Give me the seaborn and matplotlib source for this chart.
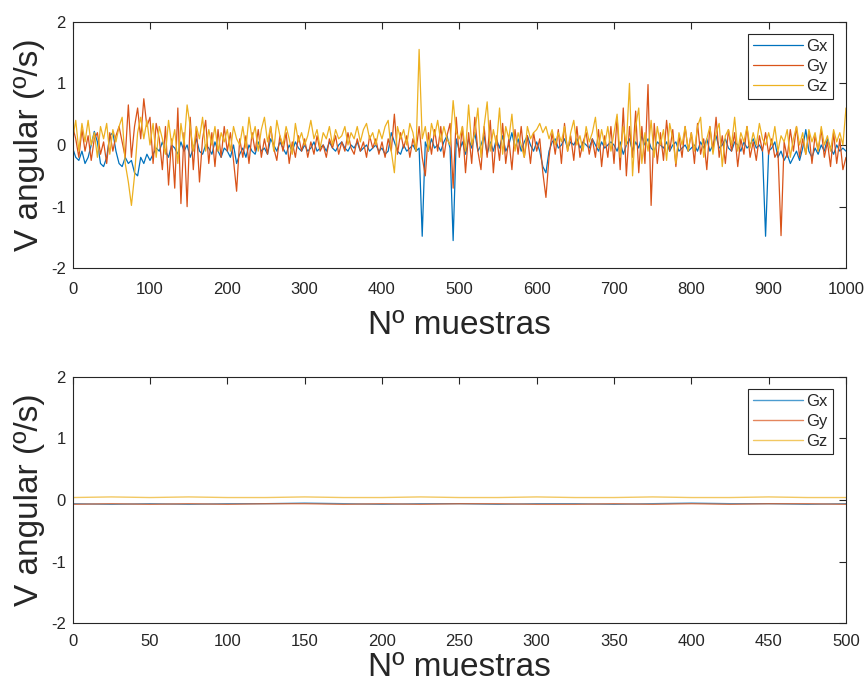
import numpy as np
import pandas as pd
import seaborn as sns
import matplotlib.pyplot as plt

# muestras 0..1000 cada 4 (filas de 25 valores = 100 muestras)
muestras_top = list(range(0, 1001, 4))

gx_top = [
    -0.05, -0.2, -0.25, -0.1, -0.3, -0.2, 0.0, 0.22, 0.05, -0.3, -0.35, -0.2, 0.15, 0.2, -0.1, -0.3, -0.35, -0.2, -0.3, -0.25, -0.45, -0.5, -0.2, -0.3, -0.15,
    -0.25, -0.15, -0.05, -0.1, 0.05, -0.1, -0.2, 0.0, -0.05, -0.15, 0.05, -0.1, 0.0, -0.2, -0.05, 0.1, -0.1, -0.15, 0.0, -0.05, -0.15, 0.05, -0.1, -0.2, -0.05,
    -0.1, -0.2, 0.0, -0.3, -0.15, -0.05, -0.2, 0.0, -0.1, -0.15, 0.05, -0.1, -0.05, -0.15, 0.1, 0.0, -0.1, 0.05, -0.05, -0.15, 0.0, -0.1, 0.05, -0.05, -0.1,
    0.0, -0.1, -0.05, 0.05, -0.1, -0.05, 0.0, -0.1, 0.05, -0.05, -0.1, 0.0, 0.05, -0.05, -0.1, 0.0, -0.05, 0.05, -0.1, -0.05, 0.0, -0.1, -0.05, 0.0, -0.1,
    -0.05, -0.15, -0.1, 0.2, 0.05, -0.1, -0.15, 0.0, -0.1, -0.05, 0.0, -0.1, -0.05, -1.48, 0.05, -0.1, 0.1, -0.05, 0.0, -0.1, 0.05, 0.15, -0.05, -1.55, 0.1,
    -0.1, 0.05, -0.15, 0.1, -0.05, 0.2, -0.1, 0.0, 0.15, -0.15, 0.05, -0.1, 0.1, -0.05, 0.15, -0.1, 0.0, 0.2, -0.05, 0.1, -0.1, 0.05, 0.15, 0.0, -0.1,
    0.05, -0.1, -0.35, -0.45, -0.1, 0.05, 0.1, -0.05, 0.0, 0.1, -0.05, 0.05, 0.0, 0.1, -0.05, 0.05, 0.0, -0.05, 0.1, 0.0, -0.1, 0.05, -0.05, 0.0, 0.05,
    0.0, -0.1, 0.05, -0.15, 0.0, 0.1, -0.1, 0.05, -0.05, 0.15, 0.0, 0.1, -0.05, -0.1, 0.05, 0.0, -0.05, 0.05, -0.1, 0.0, 0.05, -0.1, -0.05, 0.0, -0.1,
    -0.05, 0.0, -0.1, 0.05, -0.05, 0.1, -0.1, 0.0, 0.15, -0.05, 0.0, 0.1, -0.05, -0.1, 0.05, 0.0, -0.1, 0.05, -0.05, 0.0, 0.1, -0.05, 0.0, -0.1, -1.48,
    -0.1, -0.05, 0.05, -0.2, -0.1, -0.25, -0.15, -0.3, -0.2, -0.1, -0.25, -0.05, 0.25, -0.1, -0.2, -0.05, -0.15, 0.0, -0.1, 0.1, -0.05, -0.15, 0.0, -0.1, -0.05,
    -0.1,
]

gy_top = [
    0.3, 0.1, -0.2, 0.25, -0.1, 0.15, -0.25, 0.1, 0.2, -0.15, 0.05, -0.3, 0.2, -0.1, 0.15, 0.3, 0.05, -0.2, 0.65, -0.2, 0.3, 0.6, 0.1, 0.75, 0.3,
    0.45, -0.3, 0.35, 0.1, -0.4, 0.3, -0.65, 0.1, -0.7, 0.6, -0.95, 0.2, -1.0, 0.45, -0.4, 0.3, -0.6, 0.1, 0.4, -0.3, 0.2, -0.35, 0.25, -0.2, 0.3,
    -0.1, 0.2, -0.25, -0.75, 0.1, -0.2, 0.15, -0.3, 0.2, -0.1, 0.25, -0.2, 0.1, -0.15, 0.3, -0.05, -0.25, 0.15, -0.1, 0.2, -0.3, 0.05, -0.2, 0.15, -0.1,
    0.1, -0.2, 0.05, -0.15, 0.15, -0.1, 0.0, -0.2, 0.1, -0.05, 0.15, -0.15, 0.05, -0.1, 0.2, -0.05, -0.15, 0.1, -0.1, 0.05, -0.2, 0.15, -0.05, 0.1, -0.15,
    0.05, -0.2, 0.1, -0.1, 0.5, -0.15, 0.2, -0.05, 0.15, -0.2, 0.1, -0.1, 0.3, -0.2, -0.5, 0.2, -0.15, 0.25, -0.1, 0.3, -0.2, 0.15, 0.35, -0.7, 0.45,
    -0.2, 0.3, -0.45, 0.2, -0.3, 0.45, -0.1, -0.4, 0.3, -0.2, 0.4, -0.45, 0.15, -0.25, 0.35, -0.3, 0.1, -0.4, 0.25, -0.15, 0.3, -0.2, 0.15, -0.3, 0.2,
    -0.1, 0.1, -0.45, -0.85, -0.2, 0.2, -0.15, 0.25, -0.3, 0.35, -0.1, 0.15, -0.25, 0.3, -0.2, 0.05, 0.2, -0.15, 0.1, -0.2, 0.25, -0.35, 0.15, -0.2, 0.3,
    -0.3, 0.45, -0.4, 0.6, -0.5, 0.3, -0.2, 0.55, -0.45, 0.3, -0.3, 0.98, -0.98, 0.35, -0.3, 0.2, -0.25, 0.4, -0.1, 0.25, -0.35, 0.15, -0.2, 0.3, -0.1,
    0.2, -0.3, 0.35, -0.15, 0.1, -0.4, 0.3, -0.1, 0.45, -0.2, 0.15, -0.3, 0.25, -0.1, 0.2, -0.35, 0.1, -0.15, 0.3, -0.2, 0.05, -0.25, 0.15, -0.1, 0.2,
    -0.15, 0.1, -0.2, -0.1, -1.47, 0.05, -0.2, 0.25, -0.1, 0.3, -0.2, 0.1, -0.15, 0.2, -0.3, 0.15, -0.1, 0.25, -0.2, 0.05, -0.35, 0.2, -0.3, 0.1, -0.4,
    -0.2,
]

gz_top = [
    0.1, 0.4, -0.1, 0.35, 0.05, 0.4, 0.0, 0.2, -0.2, 0.3, 0.1, 0.35, -0.15, 0.25, 0.05, 0.3, 0.45, -0.3, -0.6, -0.98, -0.5, 0.2, 0.45, 0.1, 0.4,
    0.0, 0.35, -0.2, 0.3, 0.1, -0.15, 0.4, 0.0, 0.25, -0.3, 0.35, 0.0, 0.65, 0.3, -0.1, 0.3, 0.1, 0.45, -0.1, 0.25, 0.0, 0.3, -0.1, 0.2, 0.05,
    0.25, -0.1, 0.3, 0.1, 0.0, 0.3, -0.05, 0.45, 0.1, 0.3, -0.1, 0.25, 0.45, 0.05, 0.3, -0.1, 0.4, 0.15, 0.0, 0.3, 0.1, -0.15, 0.35, 0.05, 0.2,
    0.0, 0.15, 0.4, 0.1, 0.25, -0.05, 0.2, 0.1, 0.3, 0.0, 0.25, 0.1, 0.15, 0.3, 0.0, 0.2, 0.1, 0.3, 0.05, 0.25, 0.35, 0.1, 0.2, 0.0, 0.25,
    0.1, 0.3, 0.4, -0.1, -0.45, 0.3, 0.1, 0.25, 0.0, 0.35, 0.2, -0.1, 1.55, 0.1, 0.3, -0.1, 0.35, 0.15, 0.4, 0.05, 0.3, 0.1, 0.0, 0.72, 0.2,
    0.1, 0.3, -0.1, 0.65, 0.0, 0.2, 0.6, -0.2, 0.3, 0.7, -0.1, 0.25, 0.0, 0.6, -0.15, 0.3, 0.1, 0.5, -0.1, 0.2, 0.0, -0.2, 0.3, 0.1, 0.2,
    0.25, 0.35, 0.2, 0.3, 0.1, 0.25, 0.0, 0.2, 0.05, 0.3, -0.1, 0.2, 0.4, 0.0, 0.15, -0.1, 0.3, 0.05, 0.2, 0.45, -0.05, 0.25, 0.0, 0.3, -0.1,
    0.2, 0.5, -0.2, 0.3, 0.0, 1.0, -0.5, 0.3, 0.6, -0.3, 0.2, -0.1, 0.4, -0.2, 0.3, 0.0, 0.25, -0.25, 0.35, 0.1, -0.3, 0.2, 0.0, 0.3, -0.1,
    0.2, -0.1, 0.3, 0.45, -0.2, 0.1, 0.3, -0.15, 0.2, 0.35, -0.35, 0.15, 0.25, 0.0, 0.45, -0.1, 0.2, 0.05, 0.3, -0.05, 0.2, 0.0, 0.35, 0.1, 0.0,
    0.2, 0.0, 0.3, -0.1, 0.15, 0.05, 0.25, -0.2, 0.1, 0.3, 0.0, 0.2, -0.15, 0.25, 0.05, 0.2, -0.1, 0.3, 0.0, 0.15, -0.1, 0.25, 0.05, 0.2, 0.0,
    0.6,
]

# segunda captura (reposo): 0..500 cada 25
muestras_bottom = list(range(0, 501, 25))
gx_bottom = [-0.06, -0.07, -0.06, -0.07, -0.06, -0.06, -0.05, -0.06, -0.07, -0.06, -0.06,
             -0.07, -0.06, -0.06, -0.07, -0.06, -0.05, -0.06, -0.06, -0.07, -0.06]
gy_bottom = [-0.07, -0.06, -0.07, -0.06, -0.07, -0.06, -0.06, -0.07, -0.06, -0.07, -0.06,
             -0.06, -0.07, -0.07, -0.06, -0.07, -0.06, -0.07, -0.06, -0.06, -0.07]
gz_bottom = [0.04, 0.05, 0.04, 0.05, 0.04, 0.04, 0.05, 0.04, 0.04, 0.05, 0.04,
             0.04, 0.05, 0.04, 0.04, 0.05, 0.04, 0.04, 0.05, 0.04, 0.04]

series = ['Gx', 'Gy', 'Gz']
colores = ['#0072BD', '#D95319', '#EDB120']


def to_long(x, gx, gy, gz):
    assert len(x) == len(gx) == len(gy) == len(gz)
    frames = []
    for name, vals in zip(series, [gx, gy, gz]):
        frames.append(pd.DataFrame({'muestra': x, 'valor': vals, 'serie': name}))
    return pd.concat(frames, ignore_index=True)


def style_axes(ax, xmax, xstep, xpad=10, labelpad=9):
    ax.set_xlim(0, xmax)
    ax.set_ylim(-2, 2)
    ax.set_xticks(np.arange(0, xmax + 1, xstep))
    ax.set_yticks([-2, -1, 0, 1, 2])
    ax.tick_params(direction='in', length=5, width=0.8, top=True, right=True,
                   labelsize=12, colors='#262626')
    ax.tick_params(axis='x', pad=xpad)
    ax.tick_params(axis='y', pad=5)
    for side in ax.spines.values():
        side.set_color('#262626')
        side.set_linewidth(0.8)
        side.set_visible(True)
    ax.set_xlabel('Nº muestras', fontsize=24, color='#262626', labelpad=labelpad)
    ax.set_ylabel('V angular (º/s)', fontsize=24, color='#262626', labelpad=4)
    handles, labels = ax.get_legend_handles_labels()
    leg = ax.legend(handles, labels, loc='upper right', bbox_to_anchor=(0.983, 0.952),
                    fontsize=12, frameon=True, fancybox=False, framealpha=1,
                    edgecolor='#262626', handlelength=3.0, handletextpad=0.2,
                    labelspacing=0.3, borderpad=0.3, borderaxespad=0)
    leg.get_frame().set_linewidth(0.8)


sns.set_style('white')
plt.rcParams['font.family'] = ['Liberation Sans', 'DejaVu Sans']
plt.rcParams['axes.unicode_minus'] = False

fig = plt.figure(figsize=(8.66, 6.88), dpi=100)
ax1 = fig.add_axes([0.0839, 0.610, 0.8930, 0.3585])
ax2 = fig.add_axes([0.0839, 0.094, 0.8930, 0.3585])

df_top = to_long(muestras_top, gx_top, gy_top, gz_top)
sns.lineplot(data=df_top, x='muestra', y='valor', hue='serie', palette=colores,
             estimator=None, linewidth=0.9, ax=ax1)
style_axes(ax1, 1000, 100)

df_bottom = to_long(muestras_bottom, gx_bottom, gy_bottom, gz_bottom)
sns.lineplot(data=df_bottom, x='muestra', y='valor', hue='serie', palette=colores,
             estimator=None, linewidth=1.0, alpha=0.7, ax=ax2)
style_axes(ax2, 500, 50, xpad=8, labelpad=2)

fig.savefig('out.png', dpi=100)
